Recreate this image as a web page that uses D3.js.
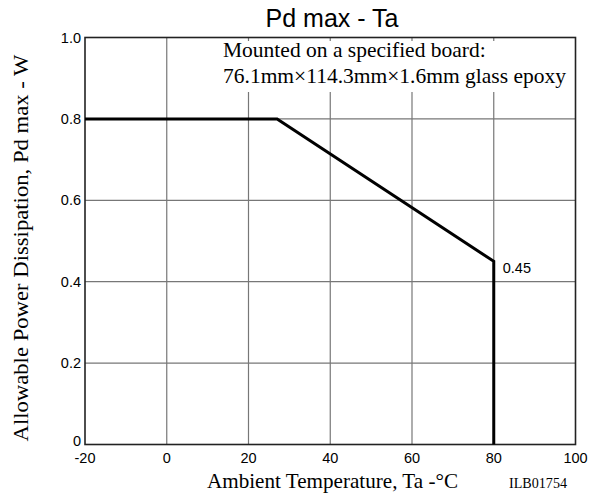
<!DOCTYPE html>
<html>
<head>
<meta charset="utf-8">
<script src="https://cdn.jsdelivr.net/npm/d3@7"></script>
<style>
  body { margin: 0; background: #fff; }
</style>
</head>
<body>
<div class="chart"></div>
<script>
const xTicks = [-20, 0, 20, 40, 60, 80, 100];
const yTicks = [0, 0.2, 0.4, 0.6, 0.8, 1.0];
const curveTa = [-20, 27, 80, 80];
const curvePd = [0.8, 0.8, 0.45, 0];
const noteLines = ["Mounted on a specified board:", "76.1mm\u00d7114.3mm\u00d71.6mm glass epoxy"];

const width = 602, height = 500;
const m = {left: 85, right: 26.5, top: 37.5, bottom: 55.5};

const x = d3.scaleLinear().domain([-20, 100]).range([m.left, width - m.right]);
const y = d3.scaleLinear().domain([0, 1]).range([height - m.bottom, m.top]);

const svg = d3.select('.chart').append('svg')
  .attr('width', width).attr('height', height);

const sans = 'Liberation Sans, Arial, sans-serif';
const serif = 'Liberation Serif, Times New Roman, serif';

// grid
svg.append('g').selectAll('line').data(xTicks.slice(1, -1)).join('line')
  .attr('x1', d => x(d)).attr('x2', d => x(d))
  .attr('y1', y(0)).attr('y2', y(1))
  .attr('stroke', '#777').attr('stroke-width', 1.2);
svg.append('g').selectAll('line').data(yTicks.slice(1, -1)).join('line')
  .attr('x1', x(-20)).attr('x2', x(100))
  .attr('y1', d => y(d)).attr('y2', d => y(d))
  .attr('stroke', '#777').attr('stroke-width', 1.2);

// note background
svg.append('rect')
  .attr('x', 218).attr('y', 41).attr('width', 355).attr('height', 51)
  .attr('fill', '#fff');
svg.append('g').selectAll('text').data(noteLines).join('text')
  .attr('x', 223).attr('y', (d, i) => 57 + i * 26)
  .attr('font-family', serif).attr('font-size', 21.5)
  .text(d => d);

// frame
svg.append('rect')
  .attr('x', x(-20)).attr('y', y(1))
  .attr('width', x(100) - x(-20)).attr('height', y(0) - y(1))
  .attr('fill', 'none').attr('stroke', '#222').attr('stroke-width', 1.6);

// curve
const line = d3.line().x(d => x(d[0])).y(d => y(d[1]));
svg.append('path')
  .attr('d', line(curveTa.map((t, i) => [t, curvePd[i]])))
  .attr('fill', 'none').attr('stroke', '#000').attr('stroke-width', 3);

svg.append('text')
  .attr('x', x(80) + 9).attr('y', y(0.45) + 12)
  .attr('font-family', sans).attr('font-size', 14.5)
  .text('0.45');

// tick labels
svg.append('g').selectAll('text').data(xTicks).join('text')
  .attr('x', d => x(d)).attr('y', y(0) + 18)
  .attr('text-anchor', 'middle')
  .attr('font-family', sans).attr('font-size', 14.5)
  .text(d => d);
svg.append('g').selectAll('text').data(yTicks).join('text')
  .attr('x', x(-20) - 4).attr('y', d => y(d) + (d === 0 ? 1.5 : 5))
  .attr('text-anchor', 'end')
  .attr('font-family', sans).attr('font-size', 14.5)
  .text(d => d === 0 ? '0' : d3.format('.1f')(d));

// titles
svg.append('text')
  .attr('x', 332).attr('y', 27)
  .attr('text-anchor', 'middle')
  .attr('font-family', sans).attr('font-size', 25)
  .text('Pd max - Ta');
svg.append('text')
  .attr('x', 207).attr('y', 488)
  .attr('font-family', serif).attr('font-size', 21)
  .attr('textLength', 251).attr('lengthAdjust', 'spacingAndGlyphs')
  .text('Ambient Temperature, Ta -\u00b0C');
svg.append('text')
  .attr('x', 509).attr('y', 488)
  .attr('font-family', serif).attr('font-size', 15)
  .attr('textLength', 58).attr('lengthAdjust', 'spacingAndGlyphs')
  .text('ILB01754');
svg.append('text')
  .attr('transform', `translate(28,248) rotate(-90)`)
  .attr('text-anchor', 'middle')
  .attr('font-family', serif).attr('font-size', 21.5)
  .attr('textLength', 387).attr('lengthAdjust', 'spacingAndGlyphs')
  .text('Allowable Power Dissipation, Pd max - W');
</script>
</body>
</html>
